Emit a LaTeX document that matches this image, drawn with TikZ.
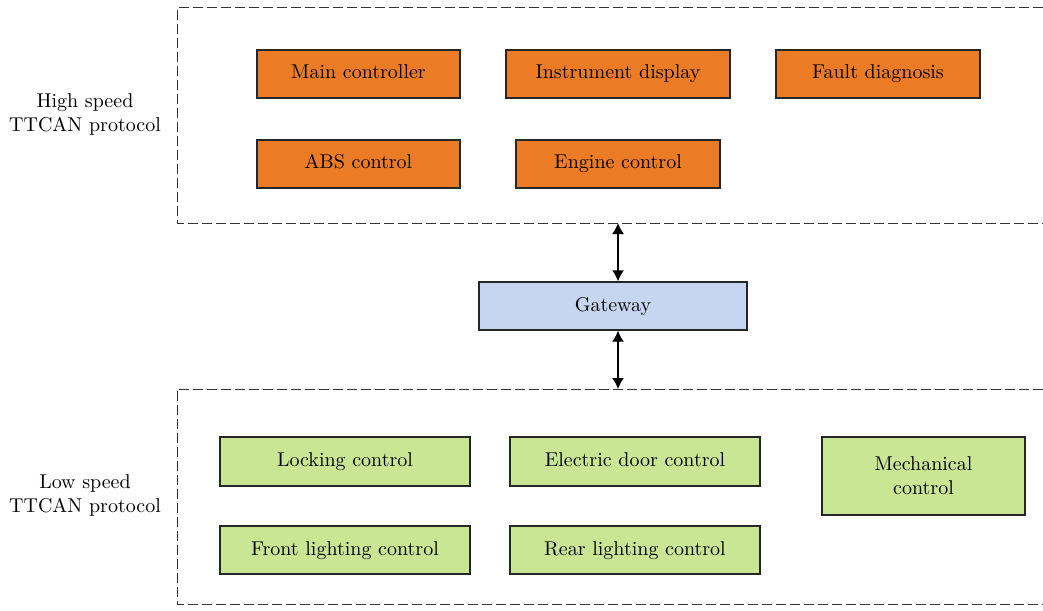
\documentclass[tikz,border=0pt]{standalone}
\usepackage{xcolor}
\usepackage{tikz}
\usetikzlibrary{arrows.meta}

\definecolor{hsorange}{HTML}{EC7B26}
\definecolor{lsgreen}{HTML}{C9E695}
\definecolor{gwblue}{HTML}{C7D6F0}

\begin{document}
\begin{tikzpicture}[x=0.5pt, y=-0.5pt,
        ecu/.style={draw=black!85, line width=0.7pt, minimum height=24pt, inner sep=1pt, align=center,
            text height=7pt, text depth=2pt},
        hsecu/.style={ecu, fill=hsorange},
        lsecu/.style={ecu, fill=lsgreen},
        busline/.style={draw=black!80, dashed, dash pattern=on 5pt off 2pt, line width=0.5pt},
        buslink/.style={{Latex[length=5.5pt,width=6pt]}-{Latex[length=5.5pt,width=6pt]}, line width=0.7pt}]
    \useasboundingbox (0, 0) rectangle (1043, 610);

    % high speed bus
    \draw[busline] (1043, 8) -- (177, 8) -- (177, 223) -- (1043, 223);
    \node (hslabel) at (85, 115) [align=center] {High speed\\TTCAN protocol};
    \node (mainctl) at (358.5, 74) [hsecu, minimum width=101.5pt] {Main controller};
    \node (instr) at (618, 74) [hsecu, minimum width=112pt] {Instrument display};
    \node (fault) at (878, 74) [hsecu, minimum width=102pt] {Fault diagnosis};
    \node (abs) at (358.5, 164) [hsecu, minimum width=101.5pt] {ABS control};
    \node (engine) at (618, 164) [hsecu, minimum width=102pt] {Engine control};

    % gateway
    \node (gw) at (613, 306) [ecu, fill=gwblue, minimum width=134pt] {Gateway};
    \coordinate (hsbus) at (618, 223);
    \coordinate (lsbus) at (618, 389);
    \draw[buslink] (hsbus) -- (hsbus |- gw.north);
    \draw[buslink] (lsbus |- gw.south) -- (lsbus);

    % low speed bus
    \draw[busline] (1043, 389) -- (177, 389) -- (177, 604) -- (1043, 604);
    \node (lslabel) at (85, 495) [align=center] {Low speed\\TTCAN protocol};
    \node (locking) at (345, 461.5) [lsecu, minimum width=125pt, minimum height=24.5pt] {Locking control};
    \node (door) at (635, 461.5) [lsecu, minimum width=125pt, minimum height=24.5pt] {Electric door control};
    \node (mech) at (923.5, 476) [lsecu, minimum width=101.5pt, minimum height=39pt,
        text height=, text depth=] {Mechanical\\control};
    \node (front) at (345, 550) [lsecu, minimum width=125pt] {Front lighting control};
    \node (rear) at (635, 550) [lsecu, minimum width=125pt] {Rear lighting control};
\end{tikzpicture}
\end{document}
